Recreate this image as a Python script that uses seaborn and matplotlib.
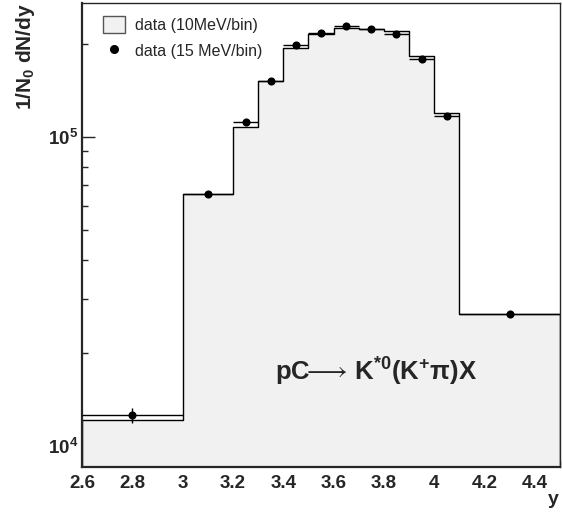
import numpy as np
import pandas as pd
import seaborn as sns
import matplotlib.pyplot as plt
from matplotlib.patches import Patch
from matplotlib.lines import Line2D
from matplotlib.ticker import MultipleLocator, FuncFormatter, LogLocator

# histogram (10MeV/bin): bin edges and contents
bin_edges = [2.6, 3.0, 3.2, 3.3, 3.4, 3.5, 3.6, 3.7, 3.8, 3.9, 4.0, 4.1, 4.5]
hist_vals = [12140, 65650, 108200, 152200, 195100, 216600, 225500, 223800,
             221400, 183800, 120200, 26770]

# points (15 MeV/bin)
pt_x = [2.8, 3.1, 3.25, 3.35, 3.45, 3.55, 3.65, 3.75, 3.85, 3.95, 4.05, 4.3]
pt_y = [12580, 65500, 112300, 151500, 199100, 217000, 229400, 224800,
        215700, 179300, 117500, 26700]
pt_xerr = [0.2, 0.1, 0.05, 0.05, 0.05, 0.05, 0.05, 0.05, 0.05, 0.05, 0.05, 0.2]
pt_yerr = [700, 1200, 1500, 1800, 2000, 2100, 2200, 2200, 2100, 1900, 1500, 500]

sns.set_style('ticks')
plt.rcParams['font.family'] = ['Liberation Sans', 'DejaVu Sans']
plt.rcParams['mathtext.fontset'] = 'custom'
plt.rcParams['mathtext.rm'] = 'Liberation Sans:bold'
plt.rcParams['mathtext.it'] = 'Liberation Sans:bold'
plt.rcParams['mathtext.bf'] = 'Liberation Sans:bold'
plt.rcParams['mathtext.default'] = 'rm'
plt.rcParams['mathtext.fallback'] = 'stixsans'

fig = plt.figure(figsize=(5.63, 5.18), dpi=100)
ax = fig.add_axes([0.1456, 0.099, 0.8491, 0.8952])

centers = [(a + b) / 2 for a, b in zip(bin_edges[:-1], bin_edges[1:])]
df = pd.DataFrame({'y': centers, 'w': hist_vals})
sns.histplot(data=df, x='y', weights='w', bins=bin_edges, element='step',
             fill=True, facecolor='#f1f1f1', edgecolor='black', linewidth=1,
             alpha=1, ax=ax)

ax.errorbar(pt_x, pt_y, xerr=pt_xerr, yerr=pt_yerr, fmt='none',
            ecolor='black', elinewidth=1, capsize=0, zorder=4)
sns.scatterplot(x=pt_x, y=pt_y, color='black', s=34, edgecolor='black',
                linewidth=0, zorder=5, ax=ax)

ax.set_yscale('log')
ax.set_xlim(2.6, 4.5)
ax.set_ylim(8570, 272000)

ax.xaxis.set_major_locator(MultipleLocator(0.2))
ax.xaxis.set_minor_locator(MultipleLocator(0.05))
ax.xaxis.set_major_formatter(FuncFormatter(lambda v, p: '%g' % round(v, 2)))
ax.yaxis.set_major_locator(LogLocator(base=10, numticks=10))
ax.yaxis.set_minor_locator(LogLocator(base=10, subs=np.arange(2, 10), numticks=10))
ax.yaxis.set_major_formatter(FuncFormatter(
    lambda v, p: r'$10^{%d}$' % round(np.log10(v))))
ax.yaxis.set_minor_formatter(FuncFormatter(lambda v, p: ''))

ax.tick_params(axis='both', which='major', direction='in', length=9.5,
               width=1, labelsize=13.5)
ax.tick_params(axis='both', which='minor', direction='in', length=4.5, width=1)
ax.tick_params(axis='x', which='major', pad=6)
ax.tick_params(axis='y', which='major', pad=3)
for lab in ax.get_xticklabels() + ax.get_yticklabels():
    lab.set_fontweight('bold')

for side in ['top', 'right']:
    ax.spines[side].set_linewidth(1)
for side in ['left', 'bottom']:
    ax.spines[side].set_linewidth(1.6)

ax.set_ylabel(r'1/N$_0$ dN/dy', fontsize=15, fontweight='bold', loc='top')
ax.yaxis.set_label_coords(-0.095, 1.0)
ax.set_xlabel('y', fontsize=14, fontweight='bold', loc='right')
ax.xaxis.set_label_coords(0.997, -0.052)

ax.text(0.615, 0.204, r'pC$\!\!\longrightarrow\!$ K$^{*0}$(K$^{+}\pi$)X',
        transform=ax.transAxes, ha='center', va='center',
        fontsize=18.5, fontweight='bold')

handles = [Patch(facecolor='#f1f1f1', edgecolor='#555555', linewidth=1),
           Line2D([], [], marker='o', color='black', linestyle='none',
                  markersize=5.5)]
ax.legend(handles, ['data (10MeV/bin)', 'data (15 MeV/bin)'],
          loc='upper left', bbox_to_anchor=(0.044, 0.972), frameon=False,
          fontsize=11.5, handlelength=1.4, handleheight=1.3,
          handletextpad=0.6, labelspacing=0.55, borderpad=0,
          borderaxespad=0)

fig.savefig('out.png', dpi=100)
